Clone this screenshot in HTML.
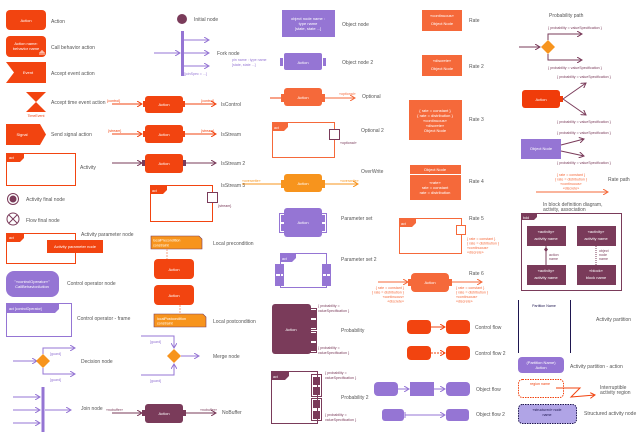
<!DOCTYPE html>
<html><head><meta charset="utf-8"><style>
body{margin:0;background:#fff}
svg{display:block;font-family:"Liberation Sans",sans-serif}
.l{font-size:5px;fill:#555}
.w{font-size:4px;fill:#fff;text-anchor:middle}
.s{font-size:3.6px}
</style></head><body>
<svg width="640" height="441" viewBox="0 0 640 441" xmlns="http://www.w3.org/2000/svg">
<defs>
<marker id="ao" markerWidth="6" markerHeight="6" refX="5" refY="3" orient="auto" markerUnits="userSpaceOnUse"><path d="M0,0 L5,3 L0,6" fill="none" stroke="#F24410" stroke-width="1"/></marker>
<marker id="ap" markerWidth="6" markerHeight="6" refX="5" refY="3" orient="auto" markerUnits="userSpaceOnUse"><path d="M0,0 L5,3 L0,6" fill="none" stroke="#9575D4" stroke-width="1"/></marker>
<marker id="am" markerWidth="6" markerHeight="6" refX="5" refY="3" orient="auto" markerUnits="userSpaceOnUse"><path d="M0,0 L5,3 L0,6" fill="none" stroke="#7A3B5A" stroke-width="1"/></marker>
<marker id="ay" markerWidth="6" markerHeight="6" refX="5" refY="3" orient="auto" markerUnits="userSpaceOnUse"><path d="M0,0 L5,3 L0,6" fill="none" stroke="#F7941D" stroke-width="1"/></marker>
<marker id="ac" markerWidth="6" markerHeight="6" refX="5" refY="3" orient="auto" markerUnits="userSpaceOnUse"><path d="M0,0 L5,3 L0,6" fill="none" stroke="#F5693A" stroke-width="1"/></marker>
</defs>

<!-- Column 1 -->
<rect x="6" y="10" width="40" height="20" rx="4" fill="#F24410"/><text class="w" x="26" y="22">Action</text><text class="l" x="51" y="23">Action</text>
<rect x="6" y="36" width="40" height="21" rx="4" fill="#F24410"/><text class="w" x="26" y="45">Action name:</text><text class="w" x="26" y="50">behavior name</text>
<path d="M40,55 v-3 M42,55 v-3 M44,55 v-3 M40,52 h4 M42,50 v2" stroke="#fff" stroke-width="0.8"/><text class="l" x="51" y="49">Call behavior action</text>
<polygon points="6,62 46,62 46,83 6,83 14,72.5" fill="#F24410"/><text class="w" x="28" y="74">Event</text><text class="l" x="51" y="75">Accept event action</text>
<polygon points="26,92 46,92 26,112 46,112" fill="#F24410"/><text x="36" y="117" class="s" fill="#F24410" text-anchor="middle">TimeEvent</text><text class="l" x="51" y="104">Accept time event action</text>
<polygon points="6,124 40,124 46,134.5 40,145 6,145" fill="#F24410"/><text class="w" x="22" y="136">Signal</text><text class="l" x="51" y="136">Send signal action</text>
<rect x="6.5" y="153.5" width="69" height="32" fill="none" stroke="#F24410"/><polygon points="6,153 24,153 24,158 20,162 6,162" fill="#F24410"/><text x="9" y="159" class="s" fill="#fff">act</text><text class="l" x="80" y="169">Activity</text>
<circle cx="13" cy="199" r="5.5" fill="none" stroke="#7A3B5A"/><circle cx="13" cy="199" r="3.5" fill="#7A3B5A"/><text class="l" x="26" y="201">Activity final node</text>
<circle cx="13" cy="219" r="6" fill="none" stroke="#7A3B5A"/><path d="M9,215 L17,223 M17,215 L9,223" stroke="#7A3B5A"/><text class="l" x="26" y="222">Flow final node</text>
<rect x="6.5" y="233.5" width="69" height="30" fill="none" stroke="#F24410"/><polygon points="6,233 24,233 24,238 20,242 6,242" fill="#F24410"/><text x="9" y="239" class="s" fill="#fff">act</text>
<rect x="47" y="240" width="56" height="13" fill="#F24410"/><text class="w" x="75" y="248">Activity parameter node</text><text class="l" x="81" y="236">Activity parameter node</text>
<rect x="6" y="271" width="53" height="26" rx="8" fill="#9575D4"/><text class="w" x="32" y="283">"«controlOperator»"</text><text class="w" x="32" y="288">CallBehaviorAction</text><text class="l" x="67" y="285">Control operator node</text>
<rect x="6.5" y="303.5" width="65" height="33" fill="none" stroke="#9575D4"/><polygon points="6,303 59,303 59,309 55,313 6,313" fill="#9575D4"/><text x="9" y="310" class="s" fill="#fff">act [controlOperator]</text><text class="l" x="77" y="320">Control operator - frame</text>
<line x1="13" y1="361" x2="37" y2="361" stroke="#9575D4" marker-end="url(#ap)"/>
<polygon points="43,354 50,361 43,368 36,361" fill="#F7941D"/>
<path d="M43,354 V348 H75" fill="none" stroke="#9575D4" marker-end="url(#ap)"/><path d="M43,368 V374 H75" fill="none" stroke="#9575D4" marker-end="url(#ap)"/>
<text x="50" y="355" class="s" fill="#9575D4">[guard]</text><text x="50" y="381" class="s" fill="#9575D4">[guard]</text><text class="l" x="81" y="363">Decision node</text>
<rect x="41.5" y="387" width="3" height="45" fill="#9575D4"/>
<line x1="13" y1="397" x2="40" y2="397" stroke="#9575D4" marker-end="url(#ap)"/><line x1="13" y1="410" x2="40" y2="410" stroke="#9575D4" marker-end="url(#ap)"/><line x1="13" y1="423" x2="40" y2="423" stroke="#9575D4" marker-end="url(#ap)"/>
<line x1="45" y1="410" x2="71" y2="410" stroke="#9575D4" marker-end="url(#ap)"/><text class="l" x="81" y="410">Join node</text>

<!-- Column 2 -->
<circle cx="182" cy="19" r="5" fill="#7A3B5A"/><text class="l" x="194" y="21">Initial node</text>
<rect x="181" y="31" width="3" height="45" fill="#9575D4"/>
<line x1="154" y1="53" x2="180" y2="53" stroke="#9575D4" marker-end="url(#ap)"/>
<line x1="184" y1="40" x2="209" y2="40" stroke="#9575D4" marker-end="url(#ap)"/><line x1="184" y1="53" x2="209" y2="53" stroke="#9575D4" marker-end="url(#ap)"/><line x1="184" y1="66" x2="209" y2="66" stroke="#9575D4" marker-end="url(#ap)"/>
<text class="l" x="217" y="55">Fork node</text><text x="184" y="75" class="s" fill="#9575D4">[joinSpec = ...]</text>
<text x="232" y="61" class="s" fill="#9575D4">pin name : type name</text><text x="232" y="66" class="s" fill="#9575D4">[state, state ...]</text>

<line x1="112" y1="104" x2="142" y2="104" stroke="#F24410" marker-end="url(#ao)"/><rect x="143" y="101" width="2" height="6" fill="#F24410"/>
<rect x="145" y="96" width="38" height="17" rx="3" fill="#F24410"/><text class="w" x="164" y="106">Action</text><rect x="183" y="101" width="2" height="6" fill="#F24410"/>
<line x1="185" y1="104" x2="216" y2="104" stroke="#F24410" marker-end="url(#ao)"/>
<text x="107" y="102" class="s" fill="#F24410">{control}</text><text x="201" y="102" class="s" fill="#F24410">{control}</text><text class="l" x="221" y="106">IsControl</text>

<line x1="112" y1="134" x2="142" y2="134" stroke="#F24410" marker-end="url(#ao)"/><rect x="143" y="131" width="2" height="6" fill="#F24410"/>
<rect x="145" y="125" width="38" height="18" rx="3" fill="#F24410"/><text class="w" x="164" y="136">Action</text><rect x="183" y="131" width="2" height="6" fill="#F24410"/>
<line x1="185" y1="134" x2="216" y2="134" stroke="#F24410" marker-end="url(#ao)"/>
<text x="108" y="132" class="s" fill="#F24410">{stream}</text><text x="201" y="132" class="s" fill="#F24410">{stream}</text><text class="l" x="221" y="136">IsStream</text>

<line x1="112" y1="163" x2="142" y2="163" stroke="#7A3B5A" marker-end="url(#am)"/><rect x="142" y="160" width="3" height="6" fill="#7A3B5A"/>
<rect x="145" y="154" width="38" height="19" rx="3" fill="#F24410"/><text class="w" x="164" y="165">Action</text><rect x="183" y="160" width="3" height="6" fill="#7A3B5A"/>
<line x1="186" y1="163" x2="216" y2="163" stroke="#7A3B5A" marker-end="url(#am)"/><text class="l" x="221" y="165">IsStream 2</text>
<text class="l" x="221" y="187">IsStream 3</text>
<rect x="150.5" y="185.5" width="62" height="36" fill="none" stroke="#F24410"/><polygon points="150,185 167,185 167,190 163,194 150,194" fill="#F24410"/><text x="152" y="192" class="s" fill="#fff">act</text>
<rect x="207.5" y="192.5" width="10" height="10" fill="#fff" stroke="#7A3B5A"/><text x="218" y="207" class="s" fill="#7A3B5A">{stream}</text>

<polygon points="151,236 199,236 202,239 202,249 151,249" fill="#F7941D" stroke="#7A3B5A" stroke-width="0.6"/><text x="153" y="241.5" class="s" fill="#fff">localPrecondition</text><text x="153" y="246.5" class="s" fill="#fff">constraint</text>
<line x1="167" y1="249" x2="167" y2="259" stroke="#F5A080" stroke-dasharray="2,1"/>
<rect x="154" y="259" width="40" height="20" rx="4" fill="#F24410"/><text class="w" x="174" y="271">Action</text><text class="l" x="213" y="245">Local precondition</text>
<rect x="154" y="285" width="40" height="20" rx="4" fill="#F24410"/><text class="w" x="174" y="297">Action</text>
<line x1="180" y1="305" x2="180" y2="314" stroke="#F5A080" stroke-dasharray="2,1"/>
<polygon points="154,314 203,314 206,317 206,327 154,327" fill="#F7941D" stroke="#7A3B5A" stroke-width="0.6"/><text x="157" y="320" class="s" fill="#fff">localPostcondition</text><text x="157" y="324.5" class="s" fill="#fff">constraint</text><text class="l" x="213" y="323">Local postcondition</text>

<polygon points="174,349 181,356 174,363 167,356" fill="#F7941D"/>
<path d="M141,336 H174 V348" fill="none" stroke="#9575D4" marker-end="url(#ap)"/><path d="M141,375 H174 V364" fill="none" stroke="#9575D4" marker-end="url(#ap)"/>
<line x1="181" y1="356" x2="199" y2="356" stroke="#9575D4" marker-end="url(#ap)"/>
<text x="150" y="343" class="s" fill="#9575D4">[guard]</text><text x="150" y="382" class="s" fill="#9575D4">[guard]</text><text class="l" x="213" y="358">Merge node</text>

<line x1="112" y1="413" x2="142" y2="413" stroke="#7A3B5A" marker-end="url(#am)"/><rect x="142" y="410" width="3" height="6" fill="#7A3B5A"/>
<rect x="145" y="404" width="38" height="19" rx="3" fill="#7A3B5A"/><text class="w" x="164" y="415">Action</text><rect x="183" y="410" width="3" height="6" fill="#7A3B5A"/>
<line x1="186" y1="413" x2="216" y2="413" stroke="#7A3B5A" marker-end="url(#am)"/>
<text x="106" y="411" class="s" fill="#7A3B5A">«nobuffer»</text><text x="200" y="411" class="s" fill="#7A3B5A">«nobuffer»</text><text class="l" x="222" y="414">NoBuffer</text>

<!-- Column 3 -->
<rect x="282" y="10" width="53" height="27" fill="#9575D4"/><text class="w" x="308" y="20">object node name :</text><text class="w" x="308" y="25">type name</text><text class="w" x="308" y="30">[state, state ...]</text><text class="l" x="342" y="26">Object node</text>
<rect x="280" y="58" width="3" height="8" fill="#9575D4"/><rect x="284" y="53" width="38" height="17" rx="2" fill="#9575D4"/><rect x="323" y="58" width="3" height="8" fill="#9575D4"/><text class="w" x="303" y="64">Action</text><text class="l" x="342" y="64">Object node 2</text>
<line x1="270" y1="98" x2="281" y2="98" stroke="#F24410"/><rect x="281" y="94" width="3" height="8" fill="#F5693A"/>
<rect x="284" y="88" width="38" height="18" rx="3" fill="#F5693A"/><text class="w" x="303" y="99">Action</text><rect x="322" y="94" width="3" height="8" fill="#F5693A"/>
<line x1="325" y1="98" x2="355" y2="98" stroke="#F5693A" marker-end="url(#ac)"/><text x="339" y="95" class="s" fill="#F5693A">«optional»</text><text class="l" x="362" y="98">Optional</text>
<rect x="272.5" y="122.5" width="62" height="35" fill="none" stroke="#F5693A"/><polygon points="272,122 288,122 288,127 284,131 272,131" fill="#F5693A"/><text x="274" y="129" class="s" fill="#fff">act</text>
<rect x="329.5" y="129.5" width="10" height="10" fill="#fff" stroke="#7A3B5A"/><text x="340" y="144" class="s" fill="#7A3B5A">«optional»</text><text class="l" x="361" y="132">Optional 2</text>
<line x1="242" y1="184" x2="281" y2="184" stroke="#F7941D"/><text x="242" y="182" class="s" fill="#F7941D">«overwrite»</text><rect x="281" y="180" width="3" height="8" fill="#F7941D"/>
<rect x="284" y="174" width="38" height="18" rx="3" fill="#F7941D"/><text class="w" x="303" y="185">Action</text><rect x="322" y="180" width="3" height="8" fill="#F7941D"/>
<line x1="325" y1="184" x2="358" y2="184" stroke="#F7941D" marker-end="url(#ay)"/><text x="340" y="182" class="s" fill="#F7941D">«overwrite»</text><text class="l" x="361" y="173">OverWrite</text>
<rect x="279.5" y="213.5" width="5" height="19" fill="none" stroke="#9575D4"/><rect x="321.5" y="213.5" width="5" height="19" fill="none" stroke="#9575D4"/>
<rect x="284" y="208" width="38" height="29" rx="3" fill="#9575D4"/><text class="w" x="303" y="224">Action</text>
<rect x="281" y="215" width="3" height="7" fill="#9575D4"/><rect x="281" y="224" width="3" height="7" fill="#9575D4"/><rect x="322" y="215" width="3" height="7" fill="#9575D4"/><rect x="322" y="224" width="3" height="7" fill="#9575D4"/>
<text class="l" x="341" y="220">Parameter set</text>
<rect x="280.5" y="253.5" width="46" height="34" fill="none" stroke="#9575D4"/><polygon points="280,253 296,253 296,258 292,262 280,262" fill="#9575D4"/><text x="282" y="260" class="s" fill="#fff">act</text>
<rect x="275.5" y="264.5" width="8" height="21" fill="none" stroke="#9575D4"/><rect x="276" y="265" width="7" height="9" fill="#9575D4"/><rect x="276" y="276" width="7" height="9" fill="#9575D4"/>
<rect x="322.5" y="264.5" width="8" height="21" fill="none" stroke="#9575D4"/><rect x="323" y="265" width="7" height="9" fill="#9575D4"/><rect x="323" y="276" width="7" height="9" fill="#9575D4"/>
<text class="l" x="341" y="261">Parameter set 2</text>
<rect x="272" y="304" width="39" height="50" rx="3" fill="#7A3B5A"/><text class="w" x="291" y="331">Action</text>
<rect x="310.5" y="308.5" width="6" height="21" fill="none" stroke="#7A3B5A"/><rect x="311" y="310" width="5" height="8" fill="#7A3B5A"/><rect x="311" y="320" width="5" height="8" fill="#7A3B5A"/>
<rect x="310.5" y="331.5" width="6" height="21" fill="none" stroke="#7A3B5A"/><rect x="311" y="333" width="5" height="8" fill="#7A3B5A"/><rect x="311" y="343" width="5" height="8" fill="#7A3B5A"/>
<text x="318" y="307" class="s" fill="#7A3B5A">{ probability =</text><text x="318" y="312" class="s" fill="#7A3B5A">valueSpecification }</text>
<text x="318" y="349" class="s" fill="#7A3B5A">{ probability =</text><text x="318" y="354" class="s" fill="#7A3B5A">valueSpecification }</text><text class="l" x="341" y="332">Probability</text>
<rect x="271.5" y="371.5" width="46" height="52" fill="none" stroke="#7A3B5A"/><polygon points="271,371 289,371 289,376 285,380 271,380" fill="#7A3B5A"/><text x="273" y="378" class="s" fill="#fff">act</text>
<rect x="311.5" y="374.5" width="10" height="22" fill="none" stroke="#7A3B5A"/><rect x="313" y="377" width="7" height="8" fill="#7A3B5A"/><rect x="313" y="387" width="7" height="8" fill="#7A3B5A"/>
<rect x="311.5" y="398.5" width="10" height="22" fill="none" stroke="#7A3B5A"/><rect x="313" y="400" width="7" height="8" fill="#7A3B5A"/><rect x="313" y="411" width="7" height="8" fill="#7A3B5A"/>
<text x="325" y="374" class="s" fill="#7A3B5A">{ probability =</text><text x="325" y="379" class="s" fill="#7A3B5A">valueSpecification }</text>
<text x="325" y="416" class="s" fill="#7A3B5A">{ probability =</text><text x="325" y="421" class="s" fill="#7A3B5A">valueSpecification }</text><text class="l" x="341" y="399">Probability 2</text>

<!-- Column 4 -->
<rect x="422" y="10" width="40" height="21" fill="#F5693A"/><text class="w" x="442" y="17">«continuous»</text><text class="w" x="442" y="25">Object Node</text><text class="l" x="469" y="22">Rate</text>
<rect x="422" y="55" width="40" height="21" fill="#F5693A"/><text class="w" x="442" y="62">«discrete»</text><text class="w" x="442" y="70">Object Node</text><text class="l" x="469" y="68">Rate 2</text>
<rect x="409" y="100" width="53" height="40" fill="#F5693A"/><text class="w" x="435" y="112">{ rate = constant }</text><text class="w" x="435" y="117">{ rate = distribution }</text><text class="w" x="435" y="122">«continuous»</text><text class="w" x="435" y="127">«discrete»</text><text class="w" x="435" y="132">Object Node</text><text class="l" x="469" y="121">Rate 3</text>
<rect x="410" y="165" width="51" height="9" fill="#F5693A"/><text class="w" x="435" y="171">Object Node</text>
<rect x="410" y="175" width="51" height="25" fill="#F5693A"/><text class="w" x="435" y="184">«rate»</text><text class="w" x="435" y="189">rate = constant</text><text class="w" x="435" y="194">rate = distribution</text><text class="l" x="469" y="183">Rate 4</text>
<rect x="399.5" y="218.5" width="62" height="35" fill="none" stroke="#F5693A"/><polygon points="399,218 416,218 416,223 412,227 399,227" fill="#F5693A"/><text x="401" y="225" class="s" fill="#fff">act</text>
<rect x="456.5" y="225.5" width="9" height="9" fill="#fff" stroke="#F5693A"/><text class="l" x="469" y="220">Rate 5</text>
<text x="467" y="240" class="s" fill="#F5693A">{ rate = constant }</text><text x="467" y="244.5" class="s" fill="#F5693A">{ rate = distribution }</text><text x="467" y="249" class="s" fill="#F5693A">«continuous»</text><text x="467" y="253.5" class="s" fill="#F5693A">«discrete»</text>
<line x1="378" y1="282" x2="408" y2="282" stroke="#F5693A" marker-end="url(#ac)"/><rect x="408" y="279" width="3" height="7" fill="#F5693A"/>
<rect x="411" y="273" width="38" height="19" rx="4" fill="#F5693A"/><text class="w" x="430" y="284">Action</text><rect x="449" y="279" width="3" height="7" fill="#F5693A"/>
<line x1="452" y1="282" x2="482" y2="282" stroke="#F5693A" marker-end="url(#ac)"/><text class="l" x="469" y="275">Rate 6</text>
<g class="s" fill="#F5693A" text-anchor="end"><text x="404" y="289">{ rate = constant }</text><text x="404" y="293.5">{ rate = distribution }</text><text x="404" y="298">«continuous»</text><text x="404" y="302.5">«discrete»</text></g>
<g class="s" fill="#F5693A"><text x="456" y="289">{ rate = constant }</text><text x="456" y="293.5">{ rate = distribution }</text><text x="456" y="298">«continuous»</text><text x="456" y="302.5">«discrete»</text></g>
<rect x="407" y="320" width="24" height="14" rx="4" fill="#F24410"/><rect x="446" y="320" width="24" height="14" rx="4" fill="#F24410"/><line x1="431" y1="327" x2="445" y2="327" stroke="#F24410" marker-end="url(#ao)"/><text class="l" x="475" y="329">Control flow</text>
<rect x="407" y="346" width="24" height="14" rx="4" fill="#F24410"/><rect x="446" y="346" width="24" height="14" rx="4" fill="#F24410"/><line x1="431" y1="353" x2="445" y2="353" stroke="#F24410" stroke-dasharray="2,1" marker-end="url(#ao)"/><text class="l" x="475" y="355">Control flow 2</text>
<rect x="374" y="382" width="24" height="14" rx="4" fill="#9575D4"/><rect x="410" y="382" width="24" height="14" fill="#9575D4"/><rect x="446" y="382" width="24" height="14" rx="4" fill="#9575D4"/>
<line x1="398" y1="389" x2="409" y2="389" stroke="#9575D4" marker-end="url(#ap)"/><line x1="434" y1="389" x2="445" y2="389" stroke="#9575D4" marker-end="url(#ap)"/><text class="l" x="476" y="391">Object flow</text>
<rect x="382" y="409" width="22" height="12" rx="3" fill="#9575D4"/><rect x="446" y="409" width="23" height="12" rx="3" fill="#9575D4"/>
<line x1="405" y1="415" x2="445" y2="415" stroke="#9575D4" marker-end="url(#ap)"/><line x1="405" y1="412" x2="405" y2="418" stroke="#9575D4"/><text class="l" x="476" y="416">Object flow 2</text>

<!-- Column 5 -->
<text class="l" x="549" y="17">Probability path</text>
<polygon points="548,40 555,47 548,54 541,47" fill="#F7941D"/>
<line x1="519" y1="47" x2="540" y2="47" stroke="#7A3B5A" marker-end="url(#am)"/>
<path d="M548,40 V34 H582" fill="none" stroke="#7A3B5A" marker-end="url(#am)"/><path d="M548,54 V60 H582" fill="none" stroke="#7A3B5A" marker-end="url(#am)"/>
<g class="s" fill="#7A3B5A"><text x="548" y="29">{ probability = valueSpecification }</text><text x="548" y="69">{ probability = valueSpecification }</text>
<text x="557" y="78">{ probability = valueSpecification }</text><text x="557" y="123">{ probability = valueSpecification }</text>
<text x="557" y="134">{ probability = valueSpecification }</text><text x="557" y="164">{ probability = valueSpecification }</text></g>
<rect x="522" y="90" width="38" height="18" rx="3" fill="#F03C0A"/><text class="w" x="541" y="101">Action</text><rect x="560" y="96" width="3" height="6" fill="#F03C0A"/>
<line x1="563" y1="99" x2="586" y2="83" stroke="#7A3B5A" marker-end="url(#am)"/><line x1="563" y1="99" x2="586" y2="115" stroke="#7A3B5A" marker-end="url(#am)"/>
<rect x="521" y="139" width="40" height="20" fill="#9575D4"/><text class="w" x="541" y="150">Object Node</text>
<line x1="561" y1="145" x2="584" y2="139" stroke="#7A3B5A" marker-end="url(#am)"/><line x1="561" y1="151" x2="584" y2="156" stroke="#7A3B5A" marker-end="url(#am)"/>
<g class="s" fill="#F5693A" text-anchor="middle"><text x="571" y="176">{ rate = constant }</text><text x="571" y="180.5">{ rate = distribution }</text><text x="571" y="185">«continuous»</text><text x="571" y="189.5">«discrete»</text></g>
<line x1="536" y1="192" x2="608" y2="192" stroke="#F5693A" marker-end="url(#ac)"/><text class="l" x="608" y="181">Rate path</text>
<text class="l" x="543" y="206">In block definition diagram,</text><text class="l" x="543" y="211">activity, association</text>
<rect x="521.5" y="213.5" width="100" height="77" fill="none" stroke="#7A3B5A"/><polygon points="521,213 537,213 537,217 534,220 521,220" fill="#7A3B5A"/><text x="523" y="219" class="s" fill="#fff">bdd</text>
<rect x="527" y="226" width="39" height="20" fill="#7A3B5A"/><text class="w" x="546" y="233">«activity»</text><text class="w" x="546" y="240">activity name</text>
<rect x="577" y="226" width="39" height="20" fill="#7A3B5A"/><text class="w" x="596" y="233">«activity»</text><text class="w" x="596" y="240">activity name</text>
<rect x="527" y="265" width="39" height="20" fill="#7A3B5A"/><text class="w" x="546" y="272">«activity»</text><text class="w" x="546" y="279">activity name</text>
<rect x="577" y="265" width="39" height="20" fill="#7A3B5A"/><text class="w" x="596" y="272">«block»</text><text class="w" x="596" y="279">block name</text>
<line x1="546" y1="246" x2="546" y2="265" stroke="#7A3B5A"/><polygon points="546,247 548,249.5 546,252 544,249.5" fill="#7A3B5A"/>
<line x1="596" y1="246" x2="596" y2="265" stroke="#7A3B5A" stroke-dasharray="1,1"/>
<g class="s" fill="#7A3B5A"><text x="549" y="256">action</text><text x="549" y="260">name</text><text x="599" y="252">object</text><text x="599" y="256">node</text><text x="599" y="260">name</text></g>
<line x1="518.5" y1="300" x2="518.5" y2="353" stroke="#1E1650"/><line x1="570.5" y1="300" x2="570.5" y2="353" stroke="#1E1650"/>
<text x="544" y="307" class="s" fill="#1E1650" text-anchor="middle">Partition Name</text><text class="l" x="596" y="321">Activity partition</text>
<rect x="518" y="357" width="46" height="16" rx="4" fill="#9575D4"/><text class="w" x="541" y="364">(Partition Name)</text><text class="w" x="541" y="369">Action</text><text class="l" x="570" y="368">Activity partition - action</text>
<rect x="518.5" y="379.5" width="45" height="18" rx="4" fill="none" stroke="#F24410" stroke-dasharray="1.5,1"/><text x="540" y="385" class="s" fill="#F24410" text-anchor="middle">region name</text>
<polyline points="556,388 580,388 571,397 595,395" fill="none" stroke="#F24410" marker-end="url(#ao)"/>
<text class="l" x="600" y="389">Interruptible</text><text class="l" x="600" y="394">activity region</text>
<rect x="518.5" y="404.5" width="58" height="19" rx="4" fill="#B0A4E6" stroke="#1E1650" stroke-dasharray="1.5,1"/><text x="547" y="411" class="s" fill="#1E1650" text-anchor="middle">«structured» node</text><text x="547" y="416" class="s" fill="#1E1650" text-anchor="middle">name</text>
<text class="l" x="584" y="415">Structured activity node</text>
</svg>
</body></html>
